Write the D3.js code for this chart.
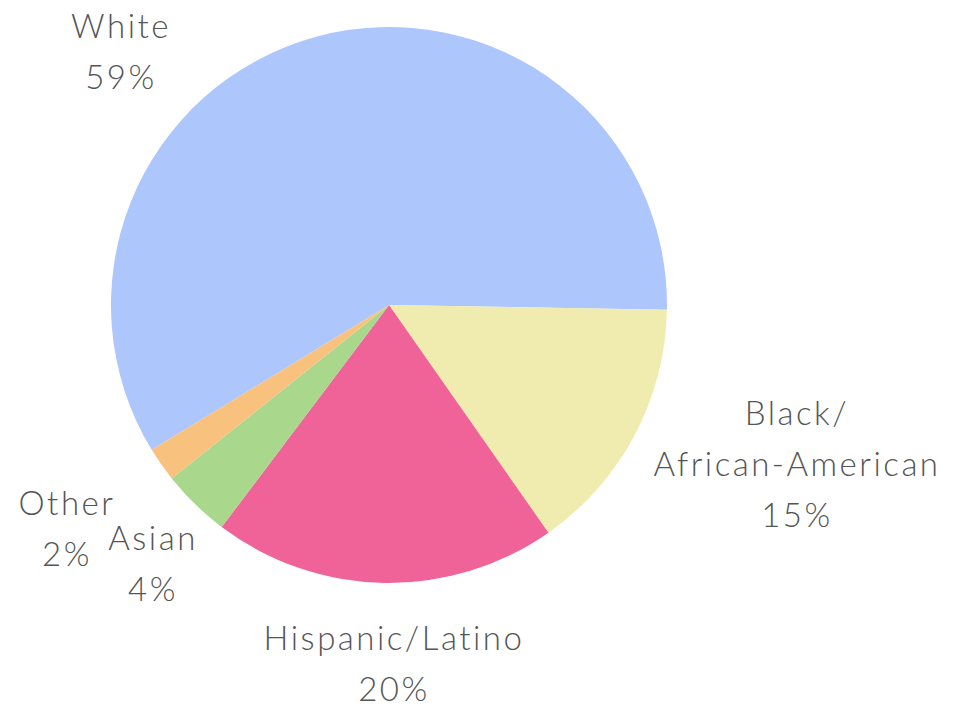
<!DOCTYPE html>
<html>
<head>
<meta charset="utf-8">
<script src="https://cdn.jsdelivr.net/npm/d3@7"></script>
<style>
  body { margin: 0; background: #fff; }
  text { font-family: "Lato", "Open Sans", sans-serif; font-weight: 300; fill: #555; }
</style>
</head>
<body>
<div id="chart"></div>
<script>
const groups = ["White", "Black/\nAfrican-American", "Hispanic/Latino", "Asian", "Other"];
const shares = [59, 15, 20, 4, 2];
const colors = ["#adc6fb", "#f0ecb0", "#f06398", "#a9d78c", "#f9c17e"];

// label anchors (page coords), hand placed like the original
const labelAt = [[121, 38], [797, 425], [394, 650], [153, 550], [67, 515]];

const width = 974, height = 713;
const cx = 389, cy = 305, radius = 278;

const svg = d3.select("#chart").append("svg")
  .attr("width", width)
  .attr("height", height);

const startDeg = -121.4;
const pie = d3.pie()
  .sort(null)
  .value(d => d)
  .startAngle(startDeg * Math.PI / 180)
  .endAngle((startDeg + 360) * Math.PI / 180);

const arc = d3.arc().innerRadius(0).outerRadius(radius);

const g = svg.append("g").attr("transform", `translate(${cx},${cy})`);

g.selectAll("path")
  .data(pie(shares))
  .enter().append("path")
  .attr("d", arc)
  .attr("fill", (d, i) => colors[i]);

// etiquetes
groups.forEach((name, i) => {
  const lines = name.split("\n").concat([shares[i] + "%"]);
  const t = svg.append("text")
    .attr("text-anchor", "middle")
    .style("font-size", "33px")
    .style("letter-spacing", "2.5px");
  lines.forEach((ln, j) => {
    t.append("tspan")
      .attr("x", labelAt[i][0])
      .attr("y", labelAt[i][1] + j * 51)
      .text(ln);
  });
});
</script>
</body>
</html>
